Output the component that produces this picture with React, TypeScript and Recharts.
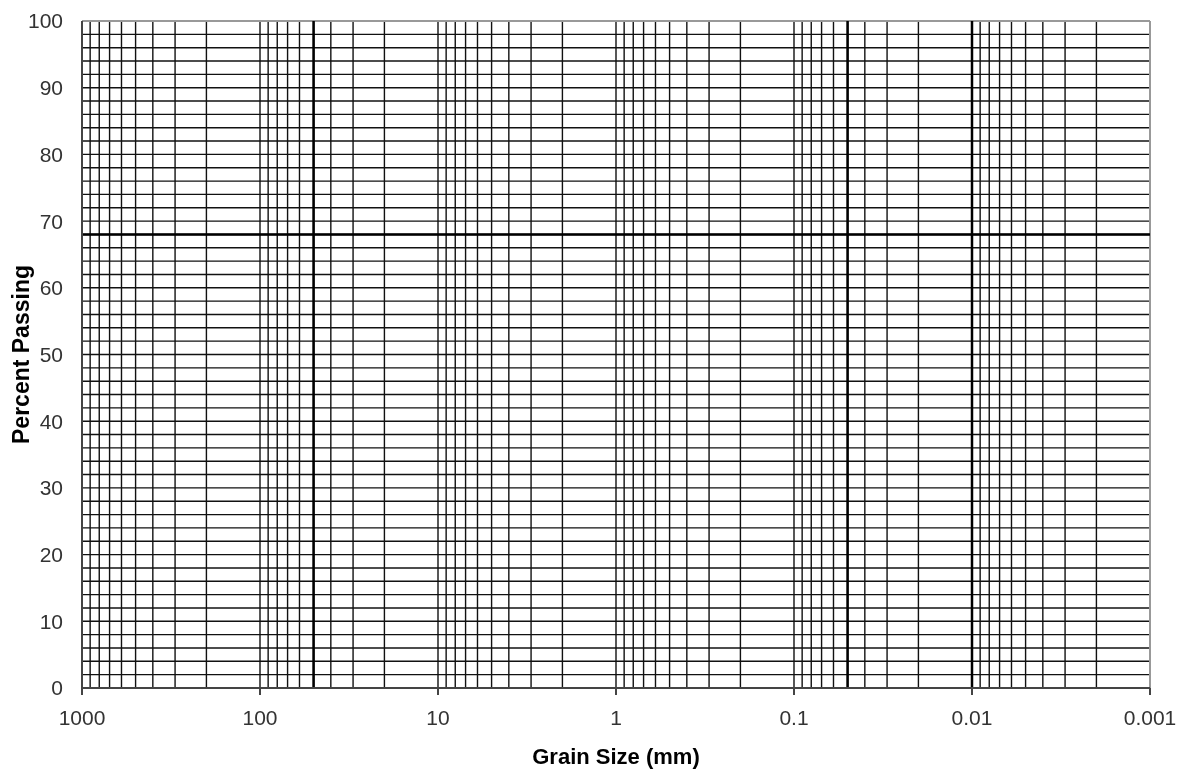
import React from 'react';
import { ComposedChart, XAxis, YAxis, ReferenceLine, Line } from 'recharts';

// Axis structure
const xTicks = [1000, 100, 10, 1, 0.1, 0.01, 0.001];
const yTicks = [0, 10, 20, 30, 40, 50, 60, 70, 80, 90, 100];
const gridDecades = [100, 10, 1, 0.1, 0.01, 0.001];
const gridMultipliers = [1, 2, 3, 4, 5, 6, 7, 8, 9];
const percentGrid = [2, 4, 6, 8, 10, 12, 14, 16, 18, 20, 22, 24, 26, 28, 30, 32, 34, 36, 38, 40, 42, 44, 46, 48, 50, 52, 54, 56, 58, 60, 62, 64, 66, 68, 70, 72, 74, 76, 78, 80, 82, 84, 86, 88, 90, 92, 94, 96, 98];

// Highlighted (thick) lines: grain sizes (mm) and percent passing
const markerSizes = [50, 0.05, 0.01];
const markerPercents = [68];

const sizeGrid: number[] = [];
gridDecades.forEach((d) => {
  gridMultipliers.forEach((m) => {
    const v = parseFloat((m * d).toPrecision(6));
    if (v > 0.001 && v < 1000) sizeGrid.push(v);
  });
});

const verticalSeries = markerSizes.map((s) => [
  { size: s, percent: 0 },
  { size: s, percent: 100 },
]);
const horizontalSeries = markerPercents.map((p) => [
  { size: 1000, percent: p },
  { size: 0.001, percent: p },
]);

const FONT = '"Liberation Sans", Arial, sans-serif';

const fmt = (v: number) => String(v);

export default function App() {
  return (
    <div style={{ position: 'fixed', top: 0, left: 0 }}>
      <ComposedChart
        width={1184}
        height={770}
        margin={{ top: 21, right: 34, bottom: 0, left: 0 }}
        style={{ fontFamily: FONT }}
      >
        <XAxis
          dataKey="size"
          type="number"
          scale="log"
          domain={[0.001, 1000]}
          allowDataOverflow
          reversed
          ticks={xTicks}
          tickFormatter={fmt}
          interval={0}
          height={82}
          tickSize={7}
          tickMargin={15}
          axisLine={{ stroke: '#444', strokeWidth: 2 }}
          tickLine={{ stroke: '#444', strokeWidth: 2 }}
          tick={{ fill: '#333', fontSize: 21, fontFamily: FONT }}
          label={{
            content: (props: any) => {
              const vb = props.viewBox || {};
              return (
                <text
                  x={vb.x + vb.width / 2}
                  y={vb.y + 76}
                  textAnchor="middle"
                  fontSize={22}
                  fontWeight="bold"
                  fill="#000"
                  fontFamily={FONT}
                >
                  Grain Size (mm)
                </text>
              );
            },
          }}
        />
        <YAxis
          dataKey="percent"
          type="number"
          domain={[0, 100]}
          allowDataOverflow
          ticks={yTicks}
          interval={0}
          width={82}
          tickSize={0}
          tickMargin={19}
          axisLine={{ stroke: '#444', strokeWidth: 2 }}
          tickLine={false}
          tick={{ fill: '#333', fontSize: 21, fontFamily: FONT }}
          label={{
            content: (props: any) => {
              const vb = props.viewBox || {};
              const cx = vb.x + 21;
              const cy = vb.y + vb.height / 2;
              return (
                <text
                  x={cx}
                  y={cy}
                  transform={`rotate(-90 ${cx} ${cy})`}
                  textAnchor="middle"
                  dominantBaseline="central"
                  fontSize={23}
                  fontWeight="bold"
                  fill="#000"
                  fontFamily={FONT}
                >
                  Percent Passing
                </text>
              );
            },
          }}
        />
        {percentGrid.map((p) => (
          <ReferenceLine key={`h${p}`} y={p} stroke="#111" strokeWidth={1.4} />
        ))}
        {sizeGrid.map((s) => (
          <ReferenceLine key={`v${s}`} x={s} stroke="#111" strokeWidth={1.4} />
        ))}
        <ReferenceLine y={100} stroke="#999" strokeWidth={2} />
        <ReferenceLine x={0.001} stroke="#999" strokeWidth={2} />
        {verticalSeries.map((d, i) => (
          <Line
            key={`mv${i}`}
            data={d}
            dataKey="percent"
            stroke="#000"
            strokeWidth={2.5}
            dot={false}
            activeDot={false}
            isAnimationActive={false}
          />
        ))}
        {horizontalSeries.map((d, i) => (
          <Line
            key={`mh${i}`}
            data={d}
            dataKey="percent"
            stroke="#000"
            strokeWidth={2.5}
            dot={false}
            activeDot={false}
            isAnimationActive={false}
          />
        ))}
      </ComposedChart>
    </div>
  );
}
